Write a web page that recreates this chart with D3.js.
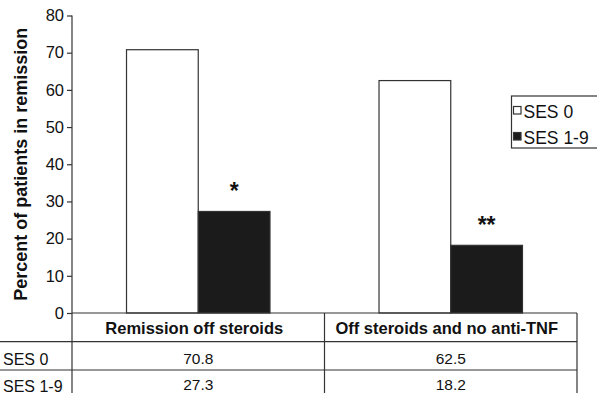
<!DOCTYPE html>
<html><head><meta charset="utf-8">
<script src="https://cdn.jsdelivr.net/npm/d3@7"></script>
<style>body{margin:0;background:#fff}svg{display:block}text{font-family:"Liberation Sans",Arial,Helvetica,sans-serif;fill:#111}</style>
</head><body>
<svg id="c" width="597" height="393"></svg>
<script>
const categories = ["Remission off steroids", "Off steroids and no anti-TNF"];
const seriesNames = ["SES 0", "SES 1-9"];
const ses0 = [70.8, 62.5];
const ses19 = [27.3, 18.2];
const significance = ["*", "**"];
const yTicks = [0, 10, 20, 30, 40, 50, 60, 70, 80];

const svg = d3.select("#c");
const stroke = "#333";
const x0 = 72, x1 = 577, yTop = 15.5, yBase = 313;
const x = d3.scaleBand().domain(categories).range([x0, x1]);
const xs = d3.scaleBand().domain(seriesNames).range([0, x.bandwidth()]).paddingOuter(0.76).paddingInner(0);
const y = d3.scaleLinear().domain([0, 80]).range([yBase, yTop]);
const fills = ["#ffffff", "#1b1b1b"];
const series = [ses0, ses19];

// bars
categories.forEach((c, i) => {
  series.forEach((s, j) => {
    svg.append("rect")
      .attr("x", x(c) + xs(seriesNames[j]))
      .attr("y", y(s[i]))
      .attr("width", xs.bandwidth())
      .attr("height", y(0) - y(s[i]))
      .attr("fill", fills[j]).attr("stroke", stroke).attr("stroke-width", 1.2);
  });
  svg.append("text")
    .attr("x", x(c) + xs(seriesNames[1]) + xs.bandwidth() / 2)
    .attr("y", y(ses19[i]) - 12)
    .attr("text-anchor", "middle")
    .attr("font-size", 23).attr("font-weight", "bold")
    .text(significance[i]);
});

// y axis
const yAxis = d3.axisLeft(y).tickValues(yTicks).tickSize(5).tickPadding(3);
const ga = svg.append("g").attr("transform", `translate(${x0},0)`).call(yAxis);
ga.select(".domain").remove();
ga.selectAll(".tick line").attr("stroke", stroke).attr("stroke-width", 1.2);
ga.selectAll(".tick text").attr("font-size", 16.5).attr("font-family", '"Liberation Sans",Arial,sans-serif').attr("fill", "#111");
svg.append("line").attr("x1", x0).attr("x2", x0).attr("y1", yTop).attr("y2", 393).attr("stroke", stroke).attr("stroke-width", 1.2);

// baseline / table top
svg.append("line").attr("x1", x0).attr("x2", x1).attr("y1", yBase).attr("y2", yBase).attr("stroke", stroke).attr("stroke-width", 1.2);

// y title
svg.append("text")
  .attr("transform", `translate(27,${(yTop + yBase) / 2}) rotate(-90)`)
  .attr("text-anchor", "middle").attr("font-size", 18).attr("font-weight", "bold")
  .text("Percent of patients in remission");

// table
const rowY = [yBase, 341.7, 370, 393];
svg.append("line").attr("x1", 0).attr("x2", x1).attr("y1", rowY[1]).attr("y2", rowY[1]).attr("stroke", stroke).attr("stroke-width", 1.2);
svg.append("line").attr("x1", 0).attr("x2", x1).attr("y1", rowY[2]).attr("y2", rowY[2]).attr("stroke", stroke).attr("stroke-width", 1.2);
[x(categories[1]), x1].forEach(xx => {
  svg.append("line").attr("x1", xx).attr("x2", xx).attr("y1", yBase).attr("y2", 393).attr("stroke", stroke).attr("stroke-width", 1.2);
});
categories.forEach((c, i) => {
  svg.append("text").attr("x", x(c) + x.bandwidth() / 2 - 4).attr("y", 334)
    .attr("text-anchor", "middle").attr("font-size", 16.5).attr("font-weight", "bold").text(c);
  svg.append("text").attr("x", x(c) + x.bandwidth() / 2).attr("y", 363.5)
    .attr("text-anchor", "middle").attr("font-size", 15.5).text(ses0[i].toFixed(1));
  svg.append("text").attr("x", x(c) + x.bandwidth() / 2).attr("y", 390)
    .attr("text-anchor", "middle").attr("font-size", 15.5).text(ses19[i].toFixed(1));
});
seriesNames.forEach((s, j) => {
  svg.append("text").attr("x", 3).attr("y", j === 0 ? 365 : 391.5).attr("font-size", 16).text(s);
});

// legend
svg.append("rect").attr("x", 511.5).attr("y", 96).attr("width", 100).attr("height", 52)
  .attr("fill", "#fff").attr("stroke", stroke).attr("stroke-width", 1.2);
seriesNames.forEach((s, j) => {
  const ly = j === 0 ? 110.5 : 136.5;
  svg.append("rect").attr("x", 513.5).attr("y", ly - 4).attr("width", 7.5).attr("height", 7.5)
    .attr("fill", fills[j]).attr("stroke", stroke).attr("stroke-width", 1.2);
  svg.append("text").attr("x", 523.5).attr("y", ly + 7).attr("font-size", 17.5).text(s);
});
</script>
</body></html>
